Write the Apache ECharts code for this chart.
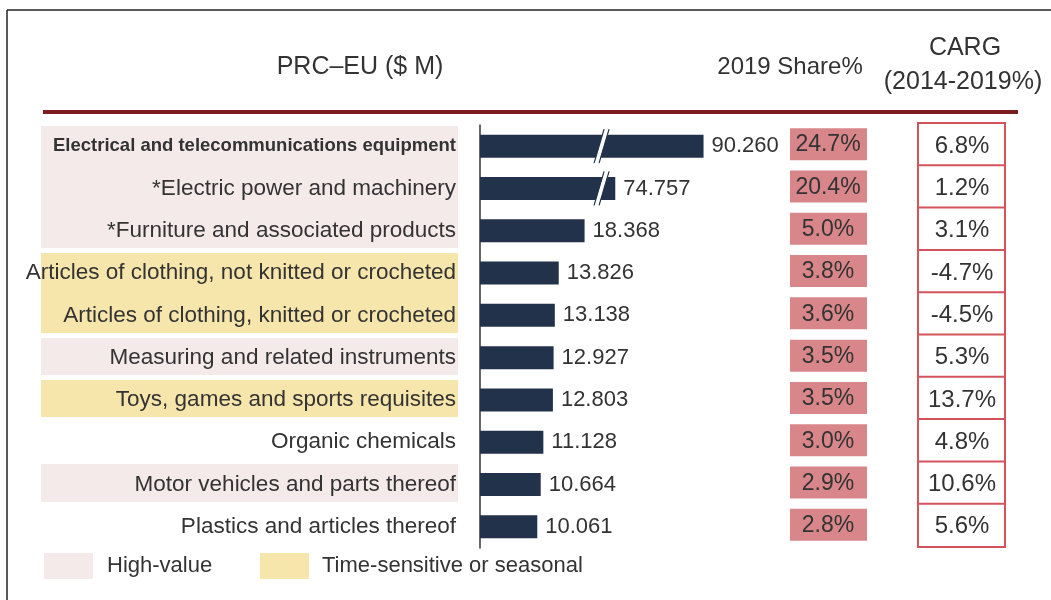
<!DOCTYPE html>
<html>
<head>
<meta charset="utf-8">
<script src="https://cdn.jsdelivr.net/npm/echarts@6.0.0/dist/echarts.min.js"></script>
<style>
  html, body { margin: 0; padding: 0; background: #fff; }
  #main { width: 1051px; height: 600px; }
</style>
</head>
<body>
<div id="main"></div>
<script>
// PRC-EU top 10 product groups
var categories = [
  "Electrical and telecommunications equipment",
  "*Electric power and machinery",
  "*Furniture and associated products",
  "Articles of clothing, not knitted or crocheted",
  "Articles of clothing, knitted or crocheted",
  "Measuring and related instruments",
  "Toys, games and sports requisites",
  "Organic chemicals",
  "Motor vehicles and parts thereof",
  "Plastics and articles thereof"
];
var values = [90.260, 74.757, 18.368, 13.826, 13.138, 12.927, 12.803, 11.128, 10.664, 10.061];
var shares = [24.7, 20.4, 5.0, 3.8, 3.6, 3.5, 3.5, 3.0, 2.9, 2.8];
var cagr = [6.8, 1.2, 3.1, -4.7, -4.5, 5.3, 13.7, 4.8, 10.6, 5.6];
// high = High-value, time = Time-sensitive or seasonal
var groups = ["high", "high", "high", "time", "time", "high", "time", "", "high", ""];
var axisBreak = { start: 21, end: 72 };

var groupColor = { high: "#f4eaea", time: "#f7e6ab" };
var font = "'Liberation Sans', Arial, sans-serif";
var txt = "#333";

var myChart = echarts.init(document.getElementById("main"));

var option = {
  animation: false,
  textStyle: { fontFamily: font },
  grid: { left: 480, top: 125, height: 423, right: 292 },
  xAxis: {
    type: "value",
    min: 0,
    max: 100,
    show: false,
    breaks: [{ start: axisBreak.start, end: axisBreak.end, gap: 0 }],
    breakArea: { show: false },
    splitLine: { show: false }
  },
  yAxis: {
    type: "category",
    inverse: true,
    data: categories,
    axisLine: { lineStyle: { color: "#333", width: 1.5 } },
    axisTick: { length: 6, lineStyle: { color: "#333", width: 1.5 } },
    axisLabel: {
      margin: 24,
      color: txt,
      fontSize: 22.5,
      fontFamily: font,
      formatter: function (v, i) {
        return i === 0 ? "{b|" + v + "}" : v;
      },
      rich: {
        b: { fontWeight: "bold", fontSize: 18.5, color: txt, fontFamily: font }
      }
    }
  },
  graphic: [
    // frame
    { type: "line", shape: { x1: 7, y1: 10, x2: 1051, y2: 10 }, style: { stroke: "#222", lineWidth: 1.5 } },
    { type: "line", shape: { x1: 7, y1: 10, x2: 7, y2: 600 }, style: { stroke: "#222", lineWidth: 1.5 } },
    // headers
    { type: "text", x: 360, y: 67, style: { text: "PRC\u2013EU ($ M)", fill: txt, font: "25px " + font, align: "center", verticalAlign: "middle" } },
    { type: "text", x: 790, y: 67, style: { text: "2019 Share%", fill: txt, font: "24px " + font, align: "center", verticalAlign: "middle" } },
    { type: "text", x: 965, y: 48, style: { text: "CARG", fill: txt, font: "25px " + font, align: "center", verticalAlign: "middle" } },
    { type: "text", x: 963, y: 82, style: { text: "(2014-2019%)", fill: txt, font: "25px " + font, align: "center", verticalAlign: "middle" } },
    // dark red rule
    { type: "rect", shape: { x: 43, y: 110, width: 975, height: 4 }, style: { fill: "#7b1d20" } },
    // legend
    { type: "rect", shape: { x: 44, y: 553, width: 49, height: 26 }, style: { fill: groupColor.high } },
    { type: "text", x: 107, y: 566, style: { text: "High-value", fill: txt, font: "22px " + font, verticalAlign: "middle" } },
    { type: "rect", shape: { x: 260, y: 553, width: 49, height: 26 }, style: { fill: groupColor.time } },
    { type: "text", x: 322, y: 566, style: { text: "Time-sensitive or seasonal", fill: txt, font: "22px " + font, verticalAlign: "middle" } }
  ],
  series: [
    {
      // row backgrounds behind labels
      type: "custom",
      z: 0,
      silent: true,
      encode: { x: 0, y: 1 },
      data: groups.map(function (g, i) { return [0, i]; }),
      renderItem: function (params, api) {
        var i = params.dataIndex;
        var g = groups[i];
        if (!g) return null;
        var c = api.coord([0, i]);
        var band = api.size([0, 1])[1];
        var top = c[1] - band / 2;
        var bot = c[1] + band / 2;
        // same group above/below: overlap so blocks merge
        top += groups[i - 1] !== g ? 1 : -1;
        bot += groups[i + 1] !== g ? -4 : 1;
        return {
          type: "rect",
          shape: { x: 41, y: Math.round(top), width: 417, height: Math.round(bot) - Math.round(top) },
          style: { fill: groupColor[g] }
        };
      }
    },
    {
      name: "PRC-EU",
      type: "bar",
      z: 2,
      barWidth: 23,
      data: values,
      itemStyle: { color: "#22324a" },
      label: {
        show: true,
        position: "right",
        distance: 8,
        color: txt,
        fontSize: 22,
        fontFamily: font,
        formatter: function (p) { return p.value.toFixed(3); }
      }
    },
    {
      // break marks on the long bars
      type: "custom",
      z: 3,
      silent: true,
      encode: { x: 0, y: 1 },
      data: values.map(function (v, i) { return [axisBreak.start, i]; }),
      renderItem: function (params, api) {
        var i = params.dataIndex;
        if (values[i] <= axisBreak.start) return null;
        var p = api.coord([axisBreak.start, i]);
        var x = p[0] + 2, y = p[1], h = 17, dx = 5, w = 2.5;
        return {
          type: "group",
          children: [
            { type: "polygon", shape: { points: [[x - dx - w, y + h], [x - dx + w, y + h], [x + dx + w, y - h], [x + dx - w, y - h]] }, style: { fill: "#fff" } },
            { type: "line", shape: { x1: x - dx - w, y1: y + h, x2: x + dx - w, y2: y - h }, style: { stroke: "#22324a", lineWidth: 1.2 } },
            { type: "line", shape: { x1: x - dx + w, y1: y + h, x2: x + dx + w, y2: y - h }, style: { stroke: "#22324a", lineWidth: 1.2 } }
          ]
        };
      }
    },
    {
      // 2019 share column
      type: "custom",
      z: 2,
      silent: true,
      encode: { x: 0, y: 1 },
      data: shares.map(function (s, i) { return [0, i]; }),
      renderItem: function (params, api) {
        var i = params.dataIndex;
        var y = api.coord([0, i])[1];
        return {
          type: "group",
          children: [
            { type: "rect", shape: { x: 790, y: y - 18, width: 77, height: 32 }, style: { fill: "#d8868a" } },
            { type: "text", x: 828, y: y - 1, style: { text: shares[i].toFixed(1) + "%", fill: txt, font: "23px " + font, align: "center", verticalAlign: "middle" } }
          ]
        };
      }
    },
    {
      // CAGR column
      type: "custom",
      z: 2,
      silent: true,
      encode: { x: 0, y: 1 },
      data: cagr.map(function (s, i) { return [0, i]; }),
      renderItem: function (params, api) {
        var i = params.dataIndex;
        var y = api.coord([0, i])[1];
        var band = api.size([0, 1])[1];
        return {
          type: "group",
          children: [
            { type: "rect", shape: { x: 918, y: y - band / 2 - 2, width: 87, height: band + 1 }, style: { fill: "#fff", stroke: "#d4545c", lineWidth: 2 } },
            { type: "text", x: 962, y: y, style: { text: cagr[i].toFixed(1) + "%", fill: txt, font: "24px " + font, align: "center", verticalAlign: "middle" } }
          ]
        };
      }
    }
  ]
};

myChart.setOption(option);

window.addEventListener("resize", function () {
  myChart.resize();
});
</script>
</body>
</html>
